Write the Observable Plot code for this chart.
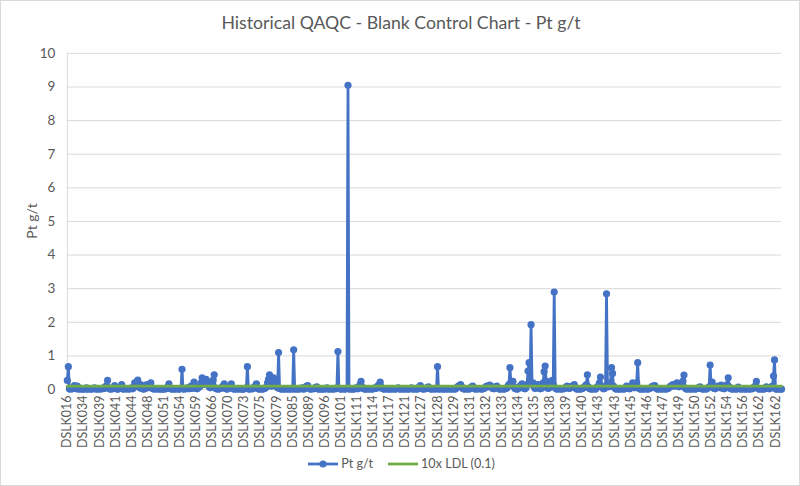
<!DOCTYPE html>
<html>
<head>
<meta charset="utf-8">
<script src="https://cdn.jsdelivr.net/npm/d3@7"></script>
<script src="https://cdn.jsdelivr.net/npm/@observablehq/plot@0.6"></script>
<style>
  html, body { margin: 0; padding: 0; background: #fff; }
  #chart { position: relative; width: 800px; height: 486px; box-sizing: border-box; border: 1px solid #d9d9d9; overflow: hidden; font-family: Lato, "Open Sans", sans-serif; color: #595959; }
  #title { position: absolute; top: 11px; left: 0; width: 800px; text-align: center; font-size: 17.7px; color: #595959; }
  #ylabel { position: absolute; left: 30px; top: 220px; transform: translate(-50%, -50%) rotate(-90deg); font-size: 14px; color: #595959; white-space: nowrap; }
  #plot { position: absolute; top: -1px; left: -1px; }
  #legend { position: absolute; top: 455px; left: 0; width: 800px; text-align: center; font-size: 12.6px; color: #595959; }
  #legend span.item { display: inline-flex; align-items: center; margin: 0 7px; }
  #legend svg { margin-right: 2px; }
</style>
</head>
<body>
<div id="chart">
  <div id="plot"></div>
  <div id="title">Historical QAQC - Blank Control Chart - Pt g/t</div>
  <div id="ylabel">Pt g/t</div>
  <div id="legend"></div>
</div>
<script>
// Tick labels shown on the category axis (one every labelEvery samples)
const tickLabels = ["DSLK016","DSLK034","DSLK039","DSLK041","DSLK044","DSLK048","DSLK051","DSLK054","DSLK059","DSLK066","DSLK070","DSLK073","DSLK075","DSLK079","DSLK085","DSLK089","DSLK096","DSLK101","DSLK111","DSLK114","DSLK117","DSLK121","DSLK127","DSLK128","DSLK129","DSLK131","DSLK132","DSLK133","DSLK134","DSLK135","DSLK138","DSLK139","DSLK140","DSLK143","DSLK143","DSLK145","DSLK146","DSLK147","DSLK149","DSLK150","DSLK152","DSLK154","DSLK156","DSLK162","DSLK162"];
const labelEvery = 16;

// Pt g/t values of blank samples, in sample order
const ptValues = [
  0.27,0.68,0.02,0.01,0.03,0.02,0.05,0.12,0.03,0.02,0.1,0.02,0.01,0.03,0.02,0.01,
  0.02,0.03,0.01,0.05,0.02,0.01,0.03,0.02,0.01,0.02,0.03,0.05,0.02,0.01,0.02,0.03,
  0.01,0.02,0.03,0.02,0.05,0.03,0.08,0.12,0.27,0.05,0.02,0.01,0.03,0.02,0.05,0.12,
  0.03,0.02,0.01,0.02,0.03,0.05,0.15,0.02,0.01,0.03,0.02,0.02,0.03,0.01,0.02,
  0.03,0.05,0.02,0.08,0.2,0.12,0.1,0.28,0.08,0.05,0.15,0.03,0.02,0.01,0.03,0.05,
  0.15,0.05,0.08,0.1,0.2,0.05,0.02,0.03,0.01,0.02,0.03,0.02,0.01,0.02,0.03,0.01,
  0.02,0.01,0.03,0.02,0.05,0.08,0.17,0.03,0.02,0.01,0.02,0.03,0.01,0.02,0.03,0.02,
  0.01,0.02,0.03,0.6,0.02,0.01,0.03,0.02,0.05,0.03,0.02,0.05,0.1,0.03,0.08,0.22,
  0.05,0.03,0.02,0.05,0.08,0.1,0.2,0.35,0.2,0.15,0.22,0.3,0.15,0.2,0.08,0.05,
  0.1,0.2,0.28,0.44,0.05,0.02,0.03,0.01,0.02,0.03,0.05,0.08,0.1,0.17,0.03,0.02,
  0.01,0.03,0.05,0.1,0.17,0.05,0.02,0.01,0.02,0.03,0.01,0.02,0.03,0.02,0.01,0.02,
  0.01,0.02,0.03,0.05,0.68,0.02,0.01,0.02,0.03,0.02,0.05,0.08,0.1,0.17,0.03,
  0.02,0.01,0.03,0.02,0.01,0.02,0.03,0.05,0.08,0.2,0.3,0.44,0.15,0.1,0.25,0.35,
  0.2,0.22,0.1,0.05,1.1,0.03,0.02,0.01,0.03,0.02,0.01,0.02,0.03,0.02,0.01,0.02,
  0.03,0.01,0.02,1.18,0.02,0.01,0.03,0.02,0.01,0.02,0.03,0.05,0.02,0.01,0.03,0.08,
  0.1,0.12,0.05,0.02,0.01,0.02,0.03,0.02,0.05,0.03,0.08,0.02,0.01,0.02,0.03,0.01,
  0.02,0.01,0.03,0.02,0.05,0.02,0.01,0.02,0.03,0.02,0.01,0.02,0.03,0.02,0.05,1.13,
  0.03,0.02,0.01,0.02,0.03,0.02,0.01,0.02,0.03,9.05,0.02,0.01,0.03,0.02,0.01,0.02,
  0.02,0.05,0.03,0.02,0.08,0.15,0.24,0.08,0.03,0.02,0.01,0.02,0.03,0.01,0.02,
  0.03,0.02,0.01,0.02,0.03,0.05,0.03,0.08,0.12,0.15,0.22,0.08,0.03,0.02,0.01,0.02,
  0.03,0.02,0.01,0.02,0.03,0.01,0.02,0.03,0.02,0.01,0.02,0.03,0.05,0.02,0.01,0.02,
  0.03,0.02,0.01,0.02,0.03,0.02,0.01,0.02,0.03,0.05,0.02,0.01,0.02,0.03,0.02,0.01,
  0.05,0.08,0.12,0.05,0.02,0.01,0.03,0.02,0.05,0.03,0.08,0.03,0.02,0.01,0.02,0.03,
  0.02,0.01,0.03,0.68,0.02,0.01,0.02,0.03,0.02,0.01,0.02,0.03,0.01,0.02,0.03,0.02,
  0.01,0.02,0.03,0.02,0.01,0.02,0.05,0.08,0.1,0.12,0.15,0.08,0.03,0.02,0.01,0.02,
  0.03,0.02,0.01,0.02,0.05,0.08,0.1,0.05,0.02,0.01,0.03,0.02,0.02,0.03,0.02,
  0.01,0.02,0.03,0.05,0.08,0.1,0.08,0.1,0.13,0.1,0.05,0.03,0.02,0.05,0.08,0.1,
  0.05,0.02,0.01,0.02,0.03,0.02,0.01,0.02,0.03,0.05,0.1,0.15,0.65,0.2,0.15,0.24,
  0.08,0.03,0.02,0.01,0.02,0.05,0.1,0.12,0.17,0.08,0.03,0.02,0.05,0.15,0.55,0.8,
  0.2,1.93,0.15,0.2,0.08,0.03,0.05,0.1,0.15,0.05,0.02,0.03,0.05,0.2,0.53,0.7,
  0.25,0.08,0.03,0.05,0.1,0.2,0.27,0.15,2.9,0.05,0.02,0.01,0.02,0.03,0.02,0.01,
  0.02,0.03,0.02,0.05,0.08,0.1,0.05,0.03,0.05,0.08,0.1,0.12,0.15,0.05,0.02,0.01,
  0.02,0.03,0.01,0.02,0.03,0.05,0.08,0.1,0.15,0.44,0.08,0.03,0.02,0.01,0.02,0.03,
  0.02,0.01,0.05,0.08,0.1,0.2,0.37,0.1,0.05,0.02,0.03,0.08,2.85,0.15,0.08,
  0.1,0.2,0.65,0.48,0.1,0.05,0.02,0.01,0.03,0.02,0.01,0.02,0.03,0.02,0.01,0.02,
  0.05,0.1,0.05,0.03,0.02,0.05,0.1,0.2,0.08,0.05,0.1,0.2,0.8,0.05,0.02,0.01,
  0.02,0.03,0.01,0.02,0.03,0.02,0.01,0.02,0.03,0.05,0.08,0.1,0.08,0.12,0.05,0.02,
  0.01,0.02,0.03,0.02,0.01,0.02,0.03,0.02,0.01,0.02,0.03,0.05,0.08,0.1,0.12,0.15,
  0.1,0.12,0.15,0.2,0.1,0.08,0.1,0.15,0.2,0.25,0.43,0.05,0.02,0.01,0.02,0.03,
  0.02,0.01,0.02,0.03,0.02,0.01,0.02,0.03,0.05,0.03,0.08,0.03,0.02,0.01,0.02,0.03,
  0.01,0.03,0.05,0.08,0.73,0.1,0.22,0.08,0.03,0.02,0.05,0.08,0.1,0.08,0.05,
  0.13,0.05,0.03,0.02,0.05,0.1,0.15,0.35,0.08,0.03,0.02,0.01,0.02,0.03,0.02,0.01,
  0.02,0.07,0.03,0.02,0.01,0.02,0.03,0.02,0.01,0.02,0.03,0.02,0.01,0.02,0.03,0.02,
  0.05,0.08,0.1,0.24,0.05,0.02,0.01,0.02,0.03,0.02,0.01,0.02,0.05,0.08,0.05,0.03,
  0.02,0.05,0.08,0.1,0.4,0.88,0.02,0.01,0.02,0.03,0.01,0.02,0.01
];
const ldlLimit = 0.1;
const yTicks = [0,1,2,3,4,5,6,7,8,9,10];

const seriesNames = ["Pt g/t", "10x LDL (0.1)"];
const colors = ["#4472C4", "#70AD47"];

const data = ptValues.map((v, i) => ({i, v}));
const ldlData = ptValues.map((v, i) => ({i, v: ldlLimit}));
const xTicks = tickLabels.map((_, k) => k * labelEvery);

const plot = Plot.plot({
  width: 801,
  height: 487,
  marginLeft: 67,
  marginRight: 18,
  marginTop: 53,
  marginBottom: 97,
  style: {fontFamily: "Lato, 'Open Sans', sans-serif", fontSize: "12px", color: "#595959", background: "transparent"},
  x: {domain: [0, ptValues.length - 1]},
  y: {domain: [0, 10]},
  marks: [
    Plot.gridY(yTicks, {stroke: "#d9d9d9", strokeOpacity: 1, strokeWidth: 1}),
    Plot.ruleX([0], {stroke: "#d9d9d9", strokeWidth: 1}),
    Plot.axisY(yTicks, {tickSize: 0, tickPadding: 12, fontSize: 13.5, label: null}),
    Plot.axisX(xTicks, {tickSize: 0, tickPadding: 6, tickRotate: -90, fontSize: 12.5, label: null, tickFormat: (d) => tickLabels[d / labelEvery]}),
    Plot.line(data, {x: "i", y: "v", stroke: colors[0], strokeWidth: 2.8}),
    Plot.dot(data, {x: "i", y: "v", r: 3.6, fill: colors[0], stroke: null}),
    Plot.line(ldlData, {x: "i", y: "v", stroke: colors[1], strokeWidth: 2.8})
  ]
});
document.getElementById("plot").appendChild(plot);

// legend
const legend = document.getElementById("legend");
seriesNames.forEach((name, k) => {
  const item = document.createElement("span");
  item.className = "item";
  const marker = k === 0
    ? `<svg width="32" height="10"><line x1="1" y1="5" x2="31" y2="5" stroke="${colors[k]}" stroke-width="2.8"/><circle cx="16" cy="5" r="3.6" fill="${colors[k]}"/></svg>`
    : `<svg width="32" height="10"><line x1="1" y1="5" x2="31" y2="5" stroke="${colors[k]}" stroke-width="2.8"/></svg>`;
  item.innerHTML = marker + `<span>${name}</span>`;
  legend.appendChild(item);
});
</script>
</body>
</html>
